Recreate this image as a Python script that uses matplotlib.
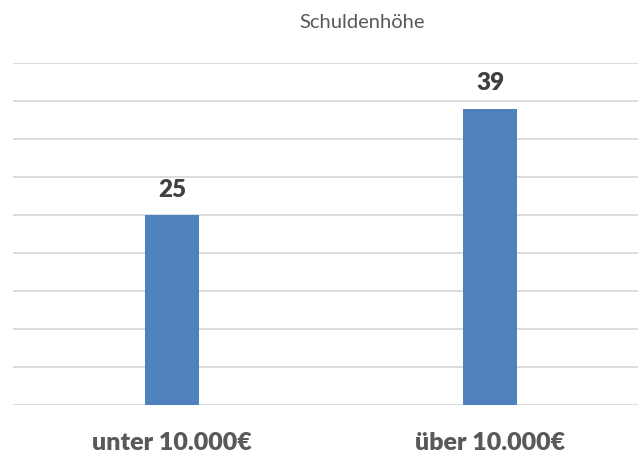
import matplotlib
matplotlib.use("Agg")
import matplotlib.pyplot as plt

categories = ["unter 10.000€", "über 10.000€"]
values = [25, 39]
title = "Schuldenhöhe"

plt.rcParams['font.family'] = ['Lato', 'DejaVu Sans']

W, H = 638, 457
fig = plt.figure(figsize=(W / 100, H / 100), dpi=100)
# plot area in pixels: left 13, right 649 (runs off the canvas), top 63, bottom 405
ax = fig.add_axes([13 / W, 1 - 405 / H, (649 - 13) / W, (405 - 63) / H])

x = range(len(categories))
bars = ax.bar(x, values, width=0.167, color="#4F81BD", zorder=3)
for xi, v in zip(x, values):
    ax.text(xi, v + 1.9, str(v), ha="center", va="bottom",
            fontsize=17.5, fontweight="heavy", color="#404040")

ax.set_xlim(-0.5, 1.5)
ax.set_ylim(0, 45)
ax.set_yticks(range(0, 46, 5))
ax.yaxis.grid(True, color="#D9D9D9", linewidth=1.3, zorder=0)
ax.tick_params(left=False, labelleft=False, bottom=False)
ax.set_xticks(list(x))
ax.set_xticklabels(categories, fontsize=18, fontweight="heavy", color="#595959")
ax.tick_params(axis="x", pad=16)
for s in ax.spines.values():
    s.set_visible(False)

fig.text(362 / W, 1 - 22 / H, title, ha="center", va="center",
         fontsize=14.5, color="#595959")

fig.savefig("out.png", dpi=100)
